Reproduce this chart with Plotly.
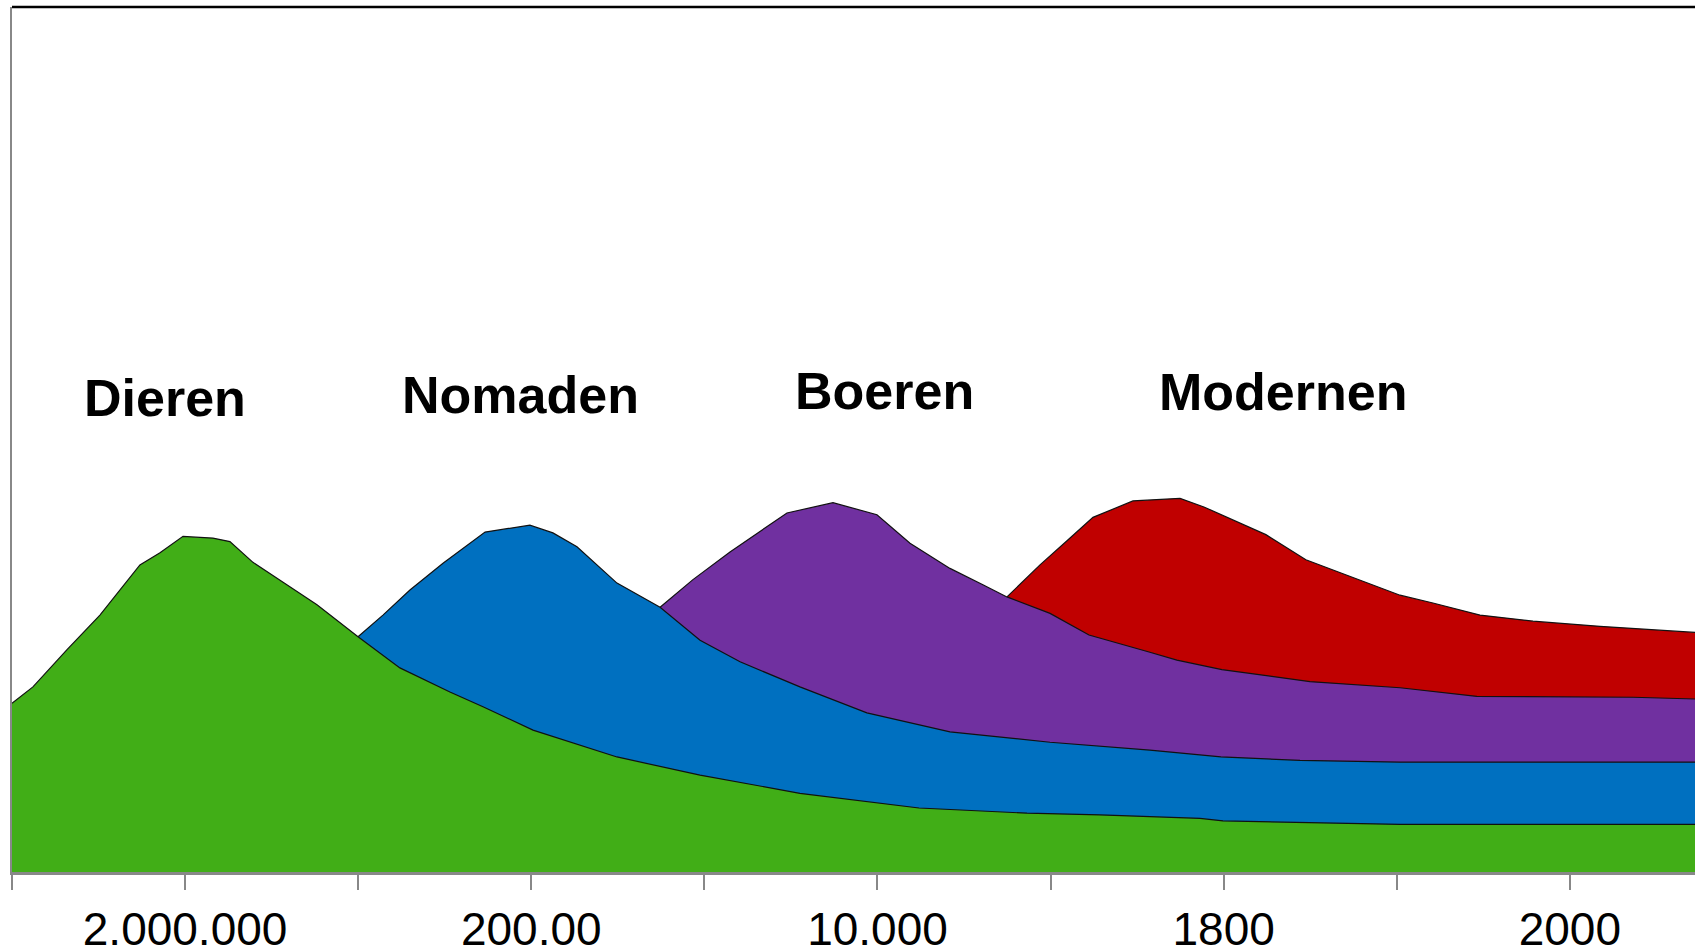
import plotly.graph_objects as go

# Tick positions along the (non-linear) time axis and their labels
tick_positions = [0, 1, 2, 3, 4, 5, 6, 7, 8, 9]
tick_labels = ["", "2.000.000", "", "200.00", "", "10.000", "", "1800", "", "2000"]

# Cumulative (stacked) level of each layer (0-100 scale)
dieren_x = [0.000, 0.121, 0.318, 0.508, 0.739, 0.855, 0.988, 1.161, 1.259, 1.392,
            1.566, 1.762, 1.999, 2.241, 2.530, 2.721, 3.010, 3.495, 3.975, 4.552,
            5.240, 5.864, 6.285, 6.863, 6.996, 7.441, 8.019, 9.723]
dieren_y = [19.5, 21.4, 25.7, 29.7, 35.5, 36.9, 38.8, 38.6, 38.2, 35.8,
            33.5, 30.9, 27.2, 23.6, 20.8, 19.1, 16.4, 13.3, 11.2, 9.1,
            7.4, 6.8, 6.6, 6.2, 5.9, 5.7, 5.5, 5.5]

nomaden_x = [1.999, 2.143, 2.299, 2.490, 2.733, 2.992, 3.125, 3.264, 3.495, 3.744,
             3.975, 4.206, 4.552, 4.939, 5.419, 5.997, 6.574, 6.984, 7.441, 8.019, 9.723]
nomaden_y = [27.2, 29.7, 32.6, 35.7, 39.3, 40.1, 39.2, 37.6, 33.4, 30.6,
             26.8, 24.3, 21.4, 18.4, 16.2, 15.0, 14.1, 13.3, 12.9, 12.7, 12.7]

boeren_x = [3.744, 3.934, 4.148, 4.477, 4.743, 4.997, 5.188, 5.419, 5.609, 5.748,
            5.997, 6.222, 6.574, 6.730, 6.990, 7.499, 8.019, 8.463, 9.365, 9.723]
boeren_y = [30.6, 33.8, 37.0, 41.5, 42.7, 41.3, 38.0, 35.1, 33.2, 31.8,
            29.9, 27.4, 25.4, 24.5, 23.4, 22.0, 21.3, 20.3, 20.2, 20.0]

modernen_x = [5.748, 5.939, 6.095, 6.245, 6.476, 6.748, 6.886, 7.244, 7.475, 7.857,
              8.019, 8.209, 8.481, 8.787, 9.174, 9.723]
modernen_y = [31.8, 35.5, 38.3, 41.0, 42.9, 43.2, 42.2, 39.0, 36.1, 33.2,
              32.0, 31.1, 29.7, 29.0, 28.4, 27.7]

series = [
    ("Modernen", modernen_x, modernen_y, "#c00000"),
    ("Boeren", boeren_x, boeren_y, "#7030a0"),
    ("Nomaden", nomaden_x, nomaden_y, "#0070c0"),
    ("Dieren", dieren_x, dieren_y, "#41ae17"),
]

label_pos = {"Dieren": (0.884, 54.8), "Nomaden": (2.935, 55.2),
             "Boeren": (5.043, 55.6), "Modernen": (7.343, 55.5)}

fig = go.Figure()
for name, xs, ys, col in series:
    fig.add_trace(go.Scatter(
        x=xs, y=ys, name=name, mode="lines", fill="tozeroy",
        fillcolor=col, line=dict(color="#111111", width=1.2),
        hoverinfo="skip", showlegend=False,
    ))

for name, (ax, ay) in label_pos.items():
    fig.add_annotation(x=ax, y=ay, text="<b>%s</b>" % name, showarrow=False,
                       xanchor="center", yanchor="middle",
                       font=dict(family="Liberation Sans, Arial", size=52, color="black"))

fig.add_shape(type="line", xref="paper", yref="paper", x0=0, x1=1, y0=1, y1=1,
              line=dict(color="black", width=2.5))

fig.update_layout(
    width=1695, height=948,
    margin=dict(l=12, r=0, t=7, b=76),
    paper_bgcolor="white", plot_bgcolor="white",
    xaxis=dict(range=[0, 9.723], tickmode="array", tickvals=tick_positions,
               ticktext=tick_labels, showgrid=False, zeroline=False, automargin=False,
               showline=True, linecolor="#888888", linewidth=2.5,
               ticks="outside", ticklen=15, tickwidth=2, tickcolor="#888888",
               tickfont=dict(family="Liberation Sans, Arial", size=46, color="black")),
    yaxis=dict(range=[0, 100], showgrid=False, zeroline=False, showticklabels=False,
               automargin=False,
               showline=True, linecolor="#888888", linewidth=2),
)

fig.write_html("out.html", config={"displayModeBar": False},
               post_script="document.body.style.margin='0';document.body.style.overflow='hidden';")
